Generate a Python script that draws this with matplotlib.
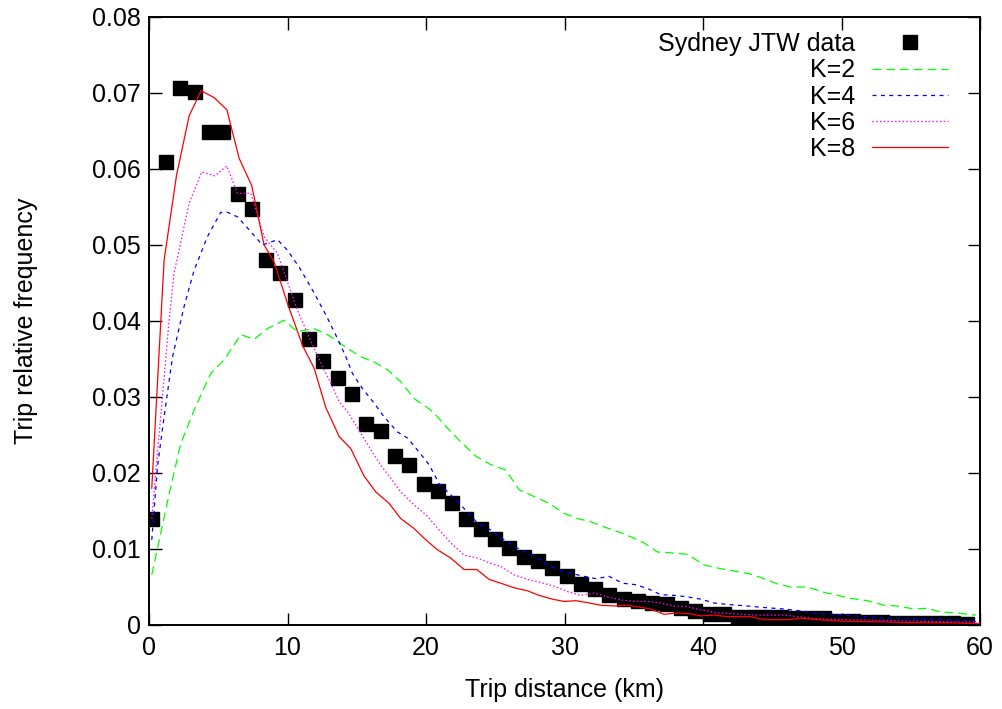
import matplotlib
matplotlib.use("Agg")
import matplotlib.pyplot as plt

plt.rcParams['font.family'] = ['Liberation Sans', 'DejaVu Sans']

# Observed data (Sydney JTW)
data_x = [0.25, 1.23, 2.25, 3.33, 4.34, 5.35, 6.43, 7.44, 8.45, 9.47,
          10.55, 11.56, 12.57, 13.65, 14.66, 15.68, 16.76, 17.77, 18.78, 19.86,
          20.87, 21.88, 22.90, 23.98, 24.99, 26.00, 27.08, 28.09, 29.11, 30.19,
          31.20, 32.21, 33.22, 34.30, 35.31, 36.33, 37.41, 38.42, 39.43, 40.51,
          41.52, 42.53, 43.62, 44.63, 45.64, 46.65, 47.74, 48.74, 49.75, 50.84,
          51.88, 52.89, 53.94, 54.95, 55.96, 56.97, 58.06, 59.07]
data_y = [0.0140, 0.0609, 0.0706, 0.0701, 0.0649, 0.0649, 0.0567, 0.0548, 0.0480, 0.0463,
          0.0428, 0.0376, 0.0347, 0.0325, 0.0304, 0.0265, 0.0255, 0.0223, 0.0211, 0.0186,
          0.0176, 0.0160, 0.0140, 0.0126, 0.0113, 0.0101, 0.0089, 0.0084, 0.0075, 0.0065,
          0.0054, 0.0048, 0.0040, 0.0034, 0.0031, 0.0029, 0.0027, 0.0022, 0.0019, 0.0015,
          0.0015, 0.0011, 0.0010, 0.0010, 0.0010, 0.0009, 0.0009, 0.0009, 0.0005, 0.0005,
          0.0004, 0.0004, 0.0002, 0.0002, 0.0002, 0.0002, 0.0002, 0.0001]

# K=2 model
k2_x = [0.20, 0.85, 1.57, 2.30, 3.26, 4.46, 5.42, 6.63, 7.59, 8.56, 9.75, 10.72, 11.92,
        12.89, 14.33, 15.29, 16.25, 17.22, 18.18, 19.14, 20.11, 20.58, 21.55, 22.51,
        23.60, 24.68, 25.76, 26.72, 27.81, 28.89, 29.97, 30.94, 31.90, 32.86, 33.83,
        34.79, 35.75, 36.71, 37.68, 38.88, 40.08, 41.05, 42.25, 43.45, 44.41, 45.38,
        46.34, 47.55, 48.74, 49.71, 50.67, 51.88, 53.08, 54.04, 55.24, 56.21, 57.17,
        58.13, 59.70]
k2_y = [0.0066, 0.0121, 0.0182, 0.0239, 0.0283, 0.0331, 0.0349, 0.0382, 0.0376, 0.0390,
        0.0401, 0.0386, 0.0390, 0.0382, 0.0364, 0.0353, 0.0346, 0.0336, 0.0320, 0.0298,
        0.0286, 0.0279, 0.0259, 0.0241, 0.0222, 0.0211, 0.0204, 0.0178, 0.0169, 0.0160,
        0.0147, 0.0140, 0.0136, 0.0129, 0.0123, 0.0116, 0.0108, 0.0096, 0.0095, 0.0093,
        0.0079, 0.0075, 0.0071, 0.0067, 0.0061, 0.0054, 0.0050, 0.0050, 0.0043, 0.0039,
        0.0035, 0.0032, 0.0026, 0.0025, 0.0021, 0.0022, 0.0017, 0.0016, 0.0013]

# K=4 model
k4_x = [0.20, 0.61, 1.09, 1.70, 2.53, 3.26, 4.22, 5.18, 5.67, 6.39, 7.23, 8.19, 9.28,
        10.00, 10.84, 11.92, 12.77, 13.61, 14.21, 14.69, 15.42, 16.25, 16.97, 17.94,
        18.66, 19.39, 20.22, 20.95, 22.03, 22.87, 23.72, 24.68, 25.64, 26.61, 27.69,
        28.65, 29.61, 30.45, 31.42, 32.26, 33.22, 34.19, 35.15, 35.99, 36.95, 37.91,
        38.88, 39.84, 40.80, 41.77, 43.21, 44.41, 45.86, 47.30, 48.51, 50.19, 51.63,
        53.08, 54.52, 55.96, 57.41, 59.10, 59.82]
k4_y = [0.0112, 0.0208, 0.0274, 0.0353, 0.0419, 0.0467, 0.0511, 0.0543, 0.0543, 0.0537,
        0.0520, 0.0500, 0.0507, 0.0493, 0.0471, 0.0437, 0.0408, 0.0377, 0.0353, 0.0331,
        0.0311, 0.0292, 0.0274, 0.0254, 0.0246, 0.0230, 0.0211, 0.0186, 0.0167, 0.0151,
        0.0134, 0.0125, 0.0112, 0.0101, 0.0092, 0.0081, 0.0072, 0.0068, 0.0064, 0.0061,
        0.0064, 0.0055, 0.0053, 0.0048, 0.0040, 0.0039, 0.0037, 0.0034, 0.0029, 0.0027,
        0.0025, 0.0023, 0.0021, 0.0018, 0.0015, 0.0013, 0.0011, 0.0009, 0.0009, 0.0008,
        0.0007, 0.0006, 0.0004]

# K=6 model
k6_x = [0.20, 0.97, 1.45, 1.81, 2.90, 3.81, 4.75, 5.62, 6.39, 7.35, 8.31, 9.28, 10.12,
        10.72, 11.92, 12.53, 13.13, 13.73, 14.33, 15.00, 15.87, 16.74, 17.46, 18.18,
        19.14, 20.11, 20.95, 21.79, 22.75, 23.72, 24.68, 25.40, 26.36, 27.33, 28.29,
        29.25, 30.22, 31.18, 32.14, 33.10, 34.06, 35.03, 35.99, 36.95, 37.91, 38.88,
        39.84, 41.05, 42.25, 43.69, 45.86, 48.27, 50.67, 53.08, 55.49, 57.89, 59.77]
k6_y = [0.0140, 0.0300, 0.0400, 0.0463, 0.0555, 0.0596, 0.0591, 0.0604, 0.0568, 0.0568,
        0.0511, 0.0489, 0.0445, 0.0414, 0.0364, 0.0340, 0.0318, 0.0294, 0.0281, 0.0261,
        0.0235, 0.0210, 0.0193, 0.0175, 0.0158, 0.0143, 0.0125, 0.0108, 0.0092, 0.0088,
        0.0081, 0.0077, 0.0066, 0.0060, 0.0056, 0.0051, 0.0044, 0.0039, 0.0042, 0.0037,
        0.0033, 0.0031, 0.0031, 0.0029, 0.0025, 0.0024, 0.0020, 0.0016, 0.0015, 0.0013,
        0.0013, 0.0008, 0.0007, 0.0006, 0.0005, 0.0004, 0.0004]

# K=8 model
k8_x = [0.20, 1.09, 1.99, 2.90, 3.76, 4.70, 5.62, 6.51, 7.42, 8.31, 9.03, 10.00, 11.08,
        11.92, 12.77, 13.73, 14.57, 15.53, 16.38, 17.34, 18.18, 19.14, 19.99, 20.83,
        21.79, 22.75, 23.67, 24.56, 25.40, 26.36, 27.33, 28.17, 29.13, 29.97, 30.82,
        31.78, 32.62, 33.58, 34.55, 35.27, 36.23, 37.19, 38.16, 39.00, 39.84, 40.80,
        41.77, 43.45, 44.41, 46.10, 47.06, 48.27, 50.17, 53.05, 55.00, 56.66, 57.89,
        59.34, 60.00]
k8_y = [0.0180, 0.0480, 0.0592, 0.0670, 0.0703, 0.0694, 0.0678, 0.0614, 0.0578, 0.0500,
        0.0478, 0.0423, 0.0368, 0.0338, 0.0286, 0.0248, 0.0232, 0.0196, 0.0175, 0.0160,
        0.0140, 0.0127, 0.0112, 0.0099, 0.0088, 0.0073, 0.0073, 0.0060, 0.0055, 0.0049,
        0.0045, 0.0039, 0.0034, 0.0031, 0.0032, 0.0029, 0.0026, 0.0025, 0.0026, 0.0024,
        0.0021, 0.0014, 0.0016, 0.0015, 0.0012, 0.0013, 0.0011, 0.0011, 0.0007, 0.0007,
        0.0009, 0.0007, 0.0005, 0.0004, 0.0003, 0.0003, 0.0003, 0.0002, 0.0002]

x_ticks = [0, 10, 20, 30, 40, 50, 60]
y_ticks = [0, 0.01, 0.02, 0.03, 0.04, 0.05, 0.06, 0.07, 0.08]
y_tick_labels = ["0", "0.01", "0.02", "0.03", "0.04", "0.05", "0.06", "0.07", "0.08"]

FS = 18

fig = plt.figure(figsize=(10.02, 7.09), dpi=100)
ax = fig.add_axes([149/1002, 1 - 625/709, (980 - 149)/1002, (625 - 17)/709])

ax.plot(data_x, data_y, linestyle='none', marker='s', markersize=9.5,
        color='black', label='Sydney JTW data', zorder=2)
ax.plot(k2_x, k2_y, color='#00ff00', lw=0.9, dashes=(7, 4), label='K=2', zorder=3)
ax.plot(k4_x, k4_y, color='#0000ff', lw=0.9, dashes=(3.2, 3.5), label='K=4', zorder=3)
ax.plot(k6_x, k6_y, color='#ff00ff', lw=0.9, dashes=(1.2, 1.8), label='K=6', zorder=3)
ax.plot(k8_x, k8_y, color='#ff0000', lw=0.9, label='K=8', zorder=3)

ax.set_xlim(0, 60)
ax.set_ylim(0, 0.08)
ax.set_xticks(x_ticks)
ax.set_yticks(y_ticks)
ax.set_yticklabels(y_tick_labels)
ax.tick_params(direction='in', length=9, width=1.0, labelsize=FS,
               top=True, right=True, color='black')
ax.tick_params(axis='x', pad=8)
ax.tick_params(axis='y', pad=6)
for s in ax.spines.values():
    s.set_linewidth(1.4)

ax.set_xlabel('Trip distance (km)', fontsize=FS)
ax.set_ylabel('Trip relative frequency', fontsize=FS)
ax.xaxis.set_label_coords(0.5, -0.087)
ax.yaxis.set_label_coords(-0.133, 0.5)

leg = ax.legend(loc='upper right', bbox_to_anchor=(0.9615, 0.975), frameon=False,
                markerfirst=False, fontsize=FS, handlelength=3.05, handletextpad=0.68,
                labelspacing=0.09, borderpad=0, borderaxespad=0, numpoints=1)

fig.savefig('out.png', dpi=100)
